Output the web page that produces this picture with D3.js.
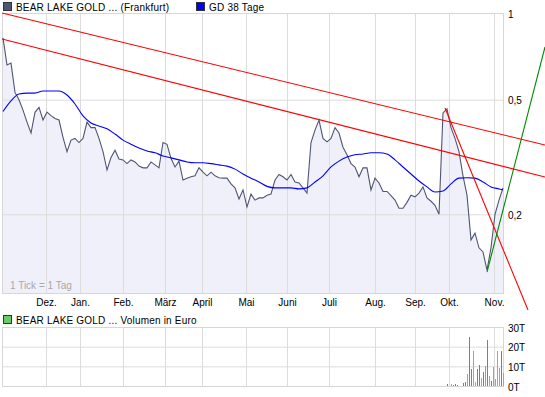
<!DOCTYPE html>
<html>
<head>
<meta charset="utf-8">
<script src="https://cdn.jsdelivr.net/npm/d3@7"></script>
<style>
body { margin: 0; background: #fff; }
svg { display: block; font-family: "Liberation Sans", Arial, sans-serif; font-size: 10px; }
.grid line { stroke: #dcdcdc; }
.grid path, .labels path { display: none; }
.labels text { fill: #000; font-size: 10px; font-family: "Liberation Sans", Arial, sans-serif; }
.legend text { letter-spacing: 0.2px; }
</style>
</head>
<body>
<div id="chart"></div>
<script>
// Closing prices, one value every 2 trading days (1 tick = 1 day).
var prices = [
    0.82, 0.66, 0.67, 0.53, 0.50, 0.46, 0.418, 0.383, 0.452, 0.47,
    0.425, 0.453, 0.44, 0.43, 0.425, 0.37, 0.33, 0.362, 0.367, 0.355,
    0.367, 0.418, 0.40, 0.40, 0.367, 0.33, 0.285, 0.315, 0.334, 0.311,
    0.309, 0.30, 0.309, 0.304, 0.294, 0.29, 0.29, 0.304, 0.297, 0.29,
    0.355, 0.35, 0.313, 0.292, 0.306, 0.263, 0.267, 0.27, 0.272, 0.29,
    0.28, 0.272, 0.28, 0.272, 0.268, 0.267, 0.267, 0.255, 0.247, 0.226,
    0.243, 0.212, 0.235, 0.224, 0.228, 0.228, 0.233, 0.235, 0.263, 0.275,
    0.27, 0.263, 0.275, 0.259, 0.257, 0.247, 0.237, 0.355, 0.392, 0.425,
    0.367, 0.357, 0.367, 0.40, 0.383, 0.342, 0.322, 0.30, 0.292, 0.27,
    0.29, 0.29, 0.243, 0.267, 0.257, 0.24, 0.24, 0.232, 0.224, 0.21,
    0.21, 0.22, 0.233, 0.23, 0.237, 0.249, 0.228, 0.222, 0.215, 0.20,
    0.45, 0.465, 0.40, 0.367, 0.33, 0.272, 0.233, 0.163, 0.172, 0.153,
    0.148, 0.128, 0.153, 0.20, 0.224, 0.247
];
var priceStep = 2;

// GD 38 Tage, one value every 4 trading days, last value on the last day.
var gd38 = [
    0.455, 0.495, 0.523, 0.527, 0.527, 0.536, 0.536, 0.536, 0.519, 0.483,
    0.439, 0.415, 0.405, 0.396, 0.38, 0.362, 0.35, 0.34, 0.332, 0.327,
    0.319, 0.314, 0.309, 0.304, 0.302, 0.302, 0.30, 0.297, 0.294, 0.287,
    0.276, 0.267, 0.259, 0.25, 0.247, 0.247, 0.247, 0.245, 0.247, 0.259,
    0.272, 0.292, 0.306, 0.316, 0.322, 0.324, 0.327, 0.327, 0.324, 0.309,
    0.292, 0.276, 0.261, 0.249, 0.239, 0.241, 0.255, 0.267, 0.268, 0.267,
    0.259, 0.249, 0.245, 0.243
];
var gdStep = 4;
var lastDay = 250;

// Trend lines as [day, price] end points.
var redTrends = [
    [[-0.5, 1.0], [271, 0.348]],
    [[-0.5, 0.812], [271, 0.2695]],
    [[221, 0.468], [262.5, 0.093]]
];
var greenTrends = [
    [[242, 0.126], [271, 0.762]]
];

// Volume in thousand euro ('u' up, 'd' down, 'n' unchanged).
var volDays = [222, 224, 225, 226, 227, 230, 231, 232, 233, 234, 235, 236, 237,
    238, 239, 240, 241, 242, 243, 244, 245, 246, 247, 248, 249, 250];
var volValues = [1, 1, 0.5, 1, 0.5, 1.7, 2.2, 6, 24.7, 8.6, 17.8, 2.2, 8.6,
    10.7, 3.9, 7, 10.2, 23.4, 5.2, 2.5, 9.8, 3.6, 17.8, 9, 17.8, 6.4];
var volDir = ['d', 'u', 'd', 'd', 'd', 'd', 'd', 'u', 'd', 'd', 'u', 'u', 'd',
    'd', 'u', 'd', 'n', 'd', 'u', 'd', 'u', 'u', 'u', 'u', 'd', 'u'];

// Month ticks (trading day index) and labels.
var monthDays = [21.5, 38.5, 60, 81, 99.5, 121.5, 142, 163, 186, 206, 223, 245.5];
var monthLabels = ['Dez.', 'Jan.', 'Feb.', 'März', 'April', 'Mai', 'Juni', 'Juli',
    'Aug.', 'Sep.', 'Okt.', 'Nov.'];
var priceTicks = [0.2, 0.5, 1];
var volTicks = [0, 10, 20, 30];

var legendPrice = 'BEAR LAKE GOLD ... (Frankfurt)';
var legendGd = 'GD 38 Tage';
var legendVol = 'BEAR LAKE GOLD ... Volumen in Euro';

var Chart = {
    width: 545, height: 397,
    left: 3, right: 503,
    plotTop: 13, plotBottom: 293,
    volTop: 327, volBottom: 386
};

Chart.draw = function(c) {
    var svg = d3.select('#chart').append('svg')
        .attr('width', c.width)
        .attr('height', c.height);

    var x = d3.scaleLinear().domain([0, lastDay]).range([c.left, c.right]);
    var y = d3.scaleLog().domain([0.1066, 1]).range([c.plotBottom, c.plotTop]);
    var yVol = d3.scaleLinear().domain([0, 30]).range([c.volBottom, c.volTop]);

    var priceData = prices.map(function(p, i) { return {d: i * priceStep, v: p}; });
    var gdData = gd38.map(function(p, i) { return {d: Math.min(i * gdStep, lastDay), v: p}; });

    // Area under the price line.
    var area = d3.area()
        .x(function(d) { return x(d.d); })
        .y0(c.plotBottom)
        .y1(function(d) { return y(d.v); });
    svg.append('path')
        .attr('d', area(priceData))
        .attr('fill', '#f0f0fa');

    // Grid of the price panel.
    svg.append('g')
        .attr('class', 'grid')
        .attr('transform', 'translate(0,' + c.plotBottom + ')')
        .call(d3.axisBottom(x).tickValues(monthDays)
            .tickSize(-(c.plotBottom - c.plotTop)).tickFormat(''));
    svg.append('g')
        .attr('class', 'grid')
        .attr('transform', 'translate(' + c.left + ',0)')
        .call(d3.axisRight(y).tickValues(priceTicks)
            .tickSize(c.right - c.left).tickFormat(''));
    svg.append('rect')
        .attr('x', c.left - 0.5).attr('y', c.plotTop + 0.5)
        .attr('width', c.right - c.left + 1).attr('height', c.plotBottom - c.plotTop)
        .attr('fill', 'none').attr('stroke', '#d6d6d6');

    // Price and moving average lines.
    var line = d3.line()
        .x(function(d) { return x(d.d); })
        .y(function(d) { return y(d.v); });
    svg.append('path')
        .attr('d', line(priceData))
        .attr('fill', 'none')
        .attr('stroke', '#4f5674')
        .attr('stroke-width', 1.1);
    svg.append('path')
        .attr('d', line.curve(d3.curveMonotoneX)(gdData))
        .attr('fill', 'none')
        .attr('stroke', '#0000ff')
        .attr('stroke-width', 1.1);

    // Trend lines.
    var seg = d3.line()
        .x(function(d) { return x(d[0]); })
        .y(function(d) { return y(d[1]); });
    redTrends.forEach(function(t) {
        svg.append('path').attr('d', seg(t))
            .attr('fill', 'none').attr('stroke', '#ff0000').attr('stroke-width', 1.1);
    });
    greenTrends.forEach(function(t) {
        svg.append('path').attr('d', seg(t))
            .attr('fill', 'none').attr('stroke', '#008a00').attr('stroke-width', 1.1);
    });

    // Axis labels of the price panel.
    svg.append('g')
        .attr('class', 'labels')
        .attr('transform', 'translate(0,' + c.plotBottom + ')')
        .call(d3.axisBottom(x).tickValues(monthDays).tickSize(0).tickPadding(6)
            .tickFormat(function(d, i) { return monthLabels[i]; }));
    svg.append('g')
        .attr('class', 'labels')
        .attr('transform', 'translate(' + c.right + ',1)')
        .call(d3.axisRight(y).tickValues(priceTicks).tickSize(0).tickPadding(5)
            .tickFormat(function(d) { return String(d).replace('.', ','); }));

    svg.append('text')
        .attr('x', 10).attr('y', 289)
        .attr('fill', '#a8a8a8')
        .text('1 Tick = 1 Tag');

    // Legends.
    var leg = svg.append('g').attr('class', 'legend');
    function legend(xPos, yPos, color, label) {
        leg.append('rect')
            .attr('x', xPos + 0.5).attr('y', yPos + 0.5)
            .attr('width', 8).attr('height', 8)
            .attr('fill', color).attr('stroke', '#333');
        leg.append('text')
            .attr('x', xPos + 13).attr('y', yPos + 8.5)
            .attr('fill', '#000')
            .text(label);
    }
    legend(3, 2, '#4f5674', legendPrice);
    legend(196, 2, '#0000ff', legendGd);
    legend(3, 315, '#66cc66', legendVol);

    // Volume panel.
    svg.append('g')
        .attr('class', 'grid')
        .attr('transform', 'translate(0,' + c.volBottom + ')')
        .call(d3.axisBottom(x).tickValues(monthDays)
            .tickSize(-(c.volBottom - c.volTop)).tickFormat(''));
    svg.append('g')
        .attr('class', 'grid')
        .attr('transform', 'translate(' + c.left + ',0)')
        .call(d3.axisRight(yVol).tickValues(volTicks)
            .tickSize(c.right - c.left).tickFormat(''));
    svg.append('rect')
        .attr('x', c.left - 0.5).attr('y', c.volTop + 0.5)
        .attr('width', c.right - c.left + 1).attr('height', c.volBottom - c.volTop)
        .attr('fill', 'none').attr('stroke', '#d6d6d6');

    var volColor = {u: '#5fd35f', d: '#d85858', n: '#999999'};
    svg.append('g')
        .attr('shape-rendering', 'crispEdges')
        .selectAll('rect')
        .data(volDays)
        .enter().append('rect')
        .attr('x', function(d) { return Math.floor(x(d)); })
        .attr('y', function(d, i) { return Math.round(yVol(volValues[i])); })
        .attr('width', 1)
        .attr('height', function(d, i) { return c.volBottom - Math.round(yVol(volValues[i])); })
        .attr('fill', function(d, i) { return volColor[volDir[i]]; });

    svg.append('g')
        .attr('class', 'labels')
        .attr('transform', 'translate(' + c.right + ',1)')
        .call(d3.axisRight(yVol).tickValues(volTicks).tickSize(0).tickPadding(5)
            .tickFormat(function(d) { return d + 'T'; }));
};

Chart.draw(Chart);
</script>
</body>
</html>
